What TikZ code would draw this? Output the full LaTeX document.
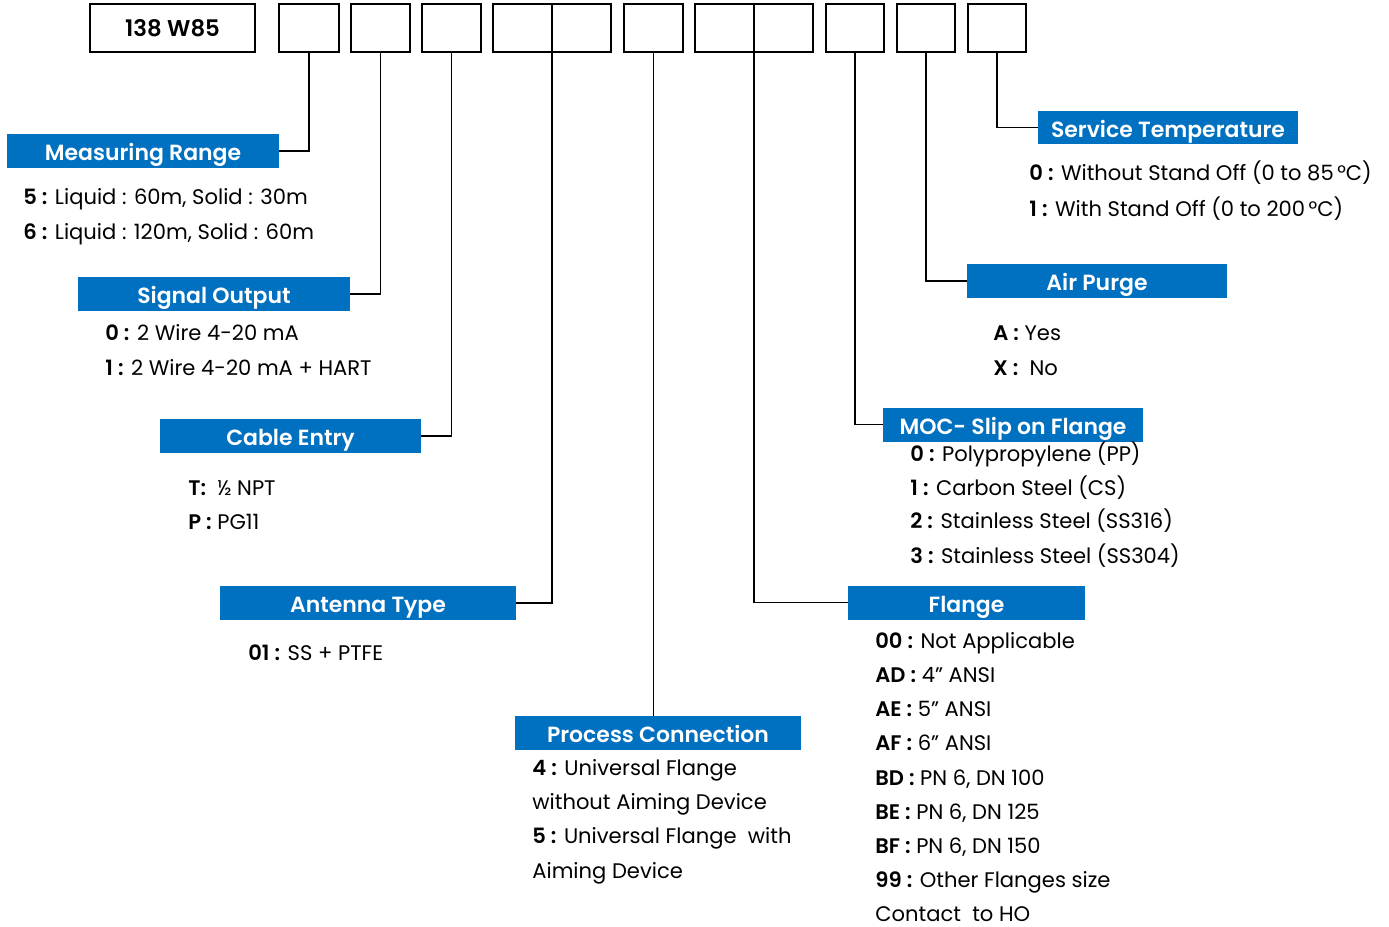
\documentclass[tikz,border=0pt]{standalone}
\usepackage{fontspec}
\setmainfont{Poppins}[BoldFont={Poppins SemiBold}]
\usetikzlibrary{positioning}
\definecolor{hdrblue}{RGB}{0,112,192}
\tikzset{codebox/.style={draw, line width=1.1pt, minimum width=1.18cm, minimum height=0.96cm, inner sep=0pt, outer sep=0pt},
  hdr/.style={fill=hdrblue, text=white, font=\bfseries\fontsize{12.5}{15}\selectfont, minimum height=0.68cm, text height=11.3pt, text depth=0pt, inner sep=0pt},
  item/.style={anchor=base west, inner sep=0pt, font=\fontsize{12}{14}\selectfont},
  link/.style={line width=0.8pt}}
\newcommand{\opt}[2]{\textbf{#1 :} #2}

\begin{document}
\begin{tikzpicture}[x=0.02cm, y=-0.02cm]
  \useasboundingbox (0,0) rectangle (1389,926);
  % order code boxes
  \node[codebox, minimum width=3.3cm, font=\bfseries\fontsize{13}{15}\selectfont] (b0) at (172.5,28) {138 W85};
  \node[codebox, right=0.48cm of b0, minimum width=1.2cm] (b1) {};
  \node[codebox, right=0.24cm of b1] (b2) {};
  \node[codebox, right=0.24cm of b2] (b3) {};
  \node[codebox, right=0.24cm of b3] (b4a) {};
  \node[codebox, right=0pt of b4a] (b4b) {};
  \node[codebox, right=0.26cm of b4b] (b5) {};
  \node[codebox, right=0.24cm of b5] (b6a) {};
  \node[codebox, right=0pt of b6a] (b6b) {};
  \node[codebox, right=0.26cm of b6b, minimum width=1.16cm] (b7) {};
  \node[codebox, right=0.26cm of b7, minimum width=1.16cm] (b8) {};
  \node[codebox, right=0.26cm of b8, minimum width=1.16cm] (b9) {};

  % headings
  \node[hdr, minimum width=5.44cm] (mr) at (143,151) {Measuring Range};
  \node[hdr, minimum width=5.44cm] (so) at (214,294) {Signal Output};
  \node[hdr, minimum width=5.22cm] (ce) at (290.5,436) {Cable Entry};
  \node[hdr, minimum width=5.92cm] (at) at (368,603) {Antenna Type};
  \node[hdr, minimum width=5.72cm] (pc) at (658,733) {Process Connection};
  \node[hdr, minimum width=4.74cm] (fl) at (966.5,602.5) {Flange};
  \node[hdr, minimum width=5.2cm] (moc) at (1013,424.5) {MOC- Slip on Flange};
  \node[hdr, minimum width=5.2cm] (ap) at (1097,281) {Air Purge};
  \node[hdr, minimum width=5.2cm] (st) at (1168,127.5) {Service Temperature};

  % connectors
  \draw[link] (b1.south) |- (mr.east);
  \draw[link] (b2.south) |- (so.east);
  \draw[link] (b3.south) |- (ce.east);
  \draw[link] (b4a.south east) |- (at.east);
  \draw[link] (b5.south) -- (b5.south |- pc.north);
  \draw[link] (b6a.south east) |- (fl.west);
  \draw[link] (b7.south) |- (moc.west);
  \draw[link] (b8.south) |- (ap.west);
  \draw[link] (b9.south) |- (st.west);

  % options
  \node[item] (mr1) at (23,204) {\opt{5}{Liquid : 60m, Solid : 30m}};
  \node[item] (mr2) at (23,239) {\opt{6}{Liquid : 120m, Solid : 60m}};
  \node[item] (so1) at (105,340) {\opt{0}{2 Wire 4-20 mA}};
  \node[item] (so2) at (105,375) {\opt{1}{2 Wire 4-20 mA + HART}};
  \node[item] (ce1) at (188,495) {\textbf{T:} \ ½ NPT};
  \node[item] (ce2) at (188,529) {\opt{P}{PG11}};
  \node[item] (at1) at (248,660) {\opt{01}{SS + PTFE}};
  \node[item] (pc1) at (532,775) {\opt{4}{Universal Flange}};
  \node[item] (pc2) at (532,809) {without Aiming Device};
  \node[item] (pc3) at (532,843) {\opt{5}{Universal Flange \ with}};
  \node[item] (pc4) at (532,878) {Aiming Device};
  \node[item] (fl1) at (875,648) {\opt{00}{Not Applicable}};
  \node[item] (fl2) at (875,682) {\opt{AD}{4” ANSI}};
  \node[item] (fl3) at (875,716) {\opt{AE}{5” ANSI}};
  \node[item] (fl4) at (875,750) {\opt{AF}{6” ANSI}};
  \node[item] (fl5) at (875,785) {\opt{BD}{PN 6, DN 100}};
  \node[item] (fl6) at (875,819) {\opt{BE}{PN 6, DN 125}};
  \node[item] (fl7) at (875,853) {\opt{BF}{PN 6, DN 150}};
  \node[item] (fl8) at (875,887) {\opt{99}{Other Flanges size}};
  \node[item] (fl9) at (875,921) {Contact \ to HO};
  \node[item] (moc1) at (910,461) {\opt{0}{Polypropylene (PP)}};
  \node[item] (moc2) at (910,495) {\opt{1}{Carbon Steel (CS)}};
  \node[item] (moc3) at (910,528) {\opt{2}{Stainless Steel (SS316)}};
  \node[item] (moc4) at (910,563) {\opt{3}{Stainless Steel (SS304)}};
  \node[item] (ap1) at (993,340) {\opt{A}{Yes}};
  \node[item] (ap2) at (993,375) {\opt{X}{\ No}};
  \node[item] (st1) at (1029,180) {\opt{0}{Without Stand Off (0 to 85\,°C)}};
  \node[item] (st2) at (1029,216) {\opt{1}{With Stand Off (0 to 200\,°C)}};
\end{tikzpicture}
\end{document}
